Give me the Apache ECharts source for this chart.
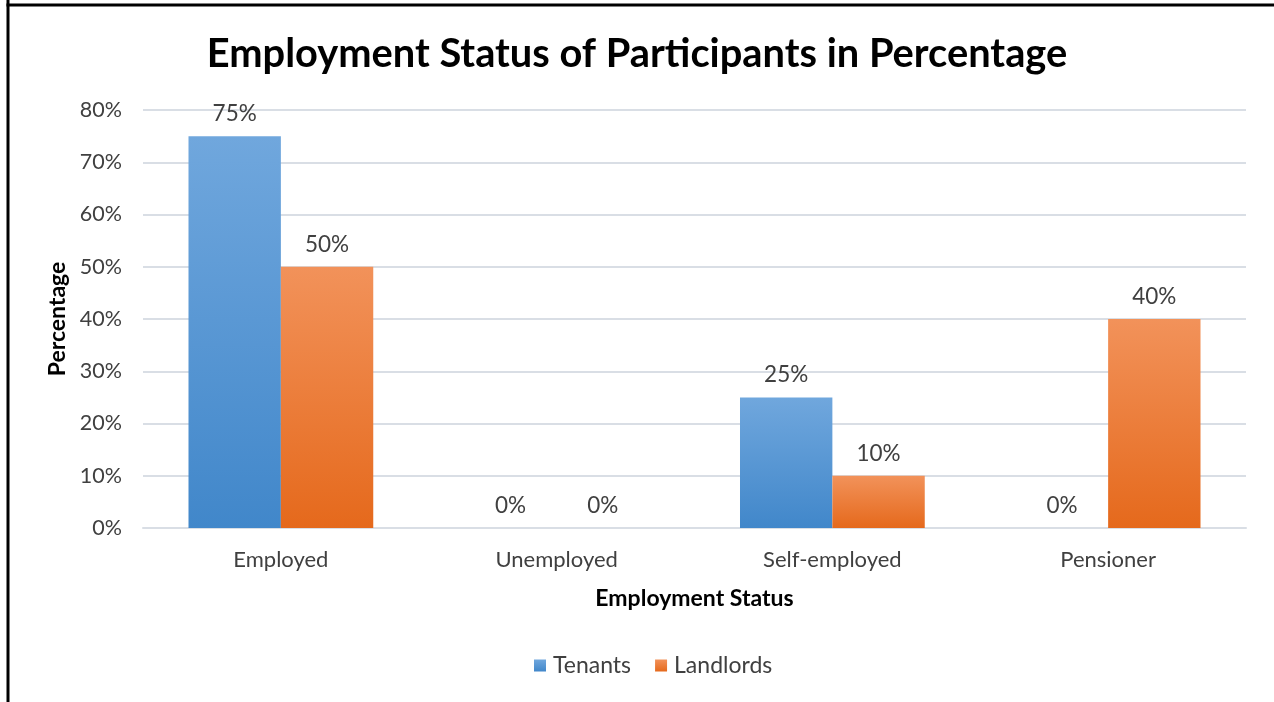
<!DOCTYPE html>
<html><head><meta charset="utf-8">
<script src="https://cdn.jsdelivr.net/npm/echarts@6/dist/echarts.min.js"></script>
<style>html,body{margin:0;padding:0;background:#fff}#c{width:1274px;height:702px}</style>
</head><body><div id="c"></div>
<script>
const categories = ['Employed', 'Unemployed', 'Self-employed', 'Pensioner'];
const tenants = [75, 0, 25, 0];
const landlords = [50, 0, 10, 40];
const yTicks = [0, 10, 20, 30, 40, 50, 60, 70, 80];

const FONT = 'Lato';
const chart = echarts.init(document.getElementById('c'));
function grad(top, bottom) {
  return new echarts.graphic.LinearGradient(0, 0, 0, 1, [{offset: 0, color: top}, {offset: 1, color: bottom}]);
}
const labelCfg = {show: true, position: 'top', distance: 11, formatter: p => p.value + '%', color: '#404040', fontSize: 22.5, fontFamily: FONT};
chart.setOption({
  animation: false,
  textStyle: {fontFamily: FONT},
  title: {text: 'Employment Status of Participants in Percentage', left: 'center', top: 29,
    textStyle: {fontSize: 39.8, fontWeight: 'bold', color: '#000', fontFamily: FONT}},
  legend: {bottom: 20, left: 529, itemWidth: 12, itemHeight: 12, itemGap: 24, icon: 'rect',
    textStyle: {fontSize: 23, color: '#404040', fontFamily: FONT, padding: [0, 0, 0, 2]}},
  grid: {left: 143, right: 28, top: 110, bottom: 174},
  xAxis: {type: 'category', data: categories, name: 'Employment Status', nameLocation: 'middle', nameGap: 59,
    nameTextStyle: {fontSize: 23, fontWeight: 'bold', color: '#000'},
    axisLine: {lineStyle: {color: '#D9DEE5', width: 2}}, axisTick: {show: false},
    axisLabel: {fontSize: 22, color: '#404040', margin: 21}},
  yAxis: {type: 'value', min: yTicks[0], max: yTicks[yTicks.length - 1], interval: 10,
    name: 'Percentage', nameLocation: 'middle', nameGap: 73, nameRotate: 90,
    nameTextStyle: {fontSize: 23, fontWeight: 'bold', color: '#000'},
    axisLabel: {formatter: '{value}%', fontSize: 21.5, color: '#404040', margin: 21},
    splitLine: {lineStyle: {color: '#D9DEE5', width: 2}}, axisLine: {show: false}},
  series: [
    {name: 'Tenants', type: 'bar', data: tenants, barGap: '0%', barCategoryGap: '33%',
      itemStyle: {color: grad('#70A7DD', '#4187CA')}, label: labelCfg},
    {name: 'Landlords', type: 'bar', data: landlords,
      itemStyle: {color: grad('#F2925A', '#E5691C')}, label: labelCfg}
  ],
  color: ['#5B9BD5', '#ED7D31'],
  graphic: [
    {type: 'line', shape: {x1: 8, y1: 0, x2: 8, y2: 702}, style: {stroke: '#000', lineWidth: 3}},
    {type: 'line', shape: {x1: 6.5, y1: 5, x2: 1274, y2: 5}, style: {stroke: '#000', lineWidth: 3}}
  ]
});
</script></body></html>
